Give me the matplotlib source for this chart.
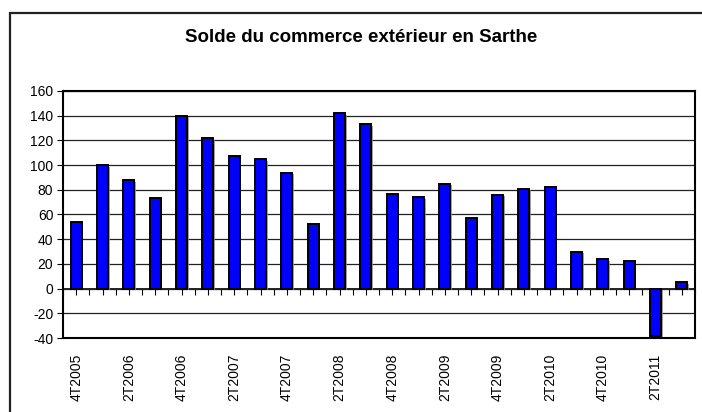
import matplotlib
matplotlib.use("Agg")
import matplotlib.pyplot as plt
import matplotlib.patches as mpatches
import matplotlib.patheffects as pe
import numpy as np

plt.rcParams['font.family'] = ['Liberation Sans', 'DejaVu Sans']
plt.rcParams['axes.unicode_minus'] = False

quarters = ["4T2005", "1T2006", "2T2006", "3T2006", "4T2006", "1T2007", "2T2007", "3T2007",
            "4T2007", "1T2008", "2T2008", "3T2008", "4T2008", "1T2009", "2T2009", "3T2009",
            "4T2009", "1T2010", "2T2010", "3T2010", "4T2010", "1T2011", "2T2011", "3T2011"]
solde = [54, 100, 88, 73, 140, 122, 107, 105, 94, 52, 142, 133,
         77, 74, 85, 57, 76, 81, 82, 30, 24, 22, -38, 5]
yticks = [-40, -20, 0, 20, 40, 60, 80, 100, 120, 140, 160]
title = "Solde du commerce extérieur en Sarthe"

fig = plt.figure(figsize=(7.02, 4.12), dpi=100)
# chart-area border
fig.patches.append(mpatches.Rectangle((10/702, -0.1), 1.0, 1 - 13/412 + 0.1,
                                      transform=fig.transFigure, fill=False,
                                      edgecolor='#222222', linewidth=1.6, zorder=0))

ax = fig.add_axes([63/702, 1 - 338/412, (695 - 63)/702, (338 - 91)/412])
x = np.arange(len(solde))
bars = ax.bar(x, solde, width=0.43, color='#0000FF', edgecolor='black', linewidth=1.4, zorder=3)
for b in bars:
    b.set_path_effects([pe.SimplePatchShadow(offset=(1.2, -1.2), shadow_rgbFace='#888888', alpha=0.8),
                        pe.Normal()])

ax.set_xlim(-0.5, len(solde) - 0.5)
ax.set_ylim(yticks[0], yticks[-1])
ax.set_yticks(yticks)
ax.yaxis.grid(True, color='#222222', linewidth=0.9, zorder=1)
ax.set_axisbelow(True)
ax.tick_params(axis='y', direction='out', length=4, width=0.8, pad=3, labelsize=10)

ax.set_xticks(x[::2])
ax.set_xticklabels(quarters[::2], rotation=90, fontsize=10)
ax.tick_params(axis='x', length=0, pad=11)

for s in ax.spines.values():
    s.set_linewidth(1.5)
    s.set_color('black')

# zero axis with tick marks
loc0 = (0 - yticks[0]) / (yticks[-1] - yticks[0])
sec = ax.secondary_xaxis(loc0)
sec.set_xticks(np.arange(-0.5, len(solde), 0.5))
sec.tick_params(direction='out', length=4, width=0.8, labelbottom=False, labeltop=False,
                bottom=True, top=False)
sec.xaxis.set_ticks_position('bottom')
sec.set_xticklabels([])
sec.spines['bottom'].set_linewidth(1.2)

fig.text(361/702, 1 - 38/412, title, ha='center', va='center',
         fontsize=13.5, fontweight='bold')

fig.savefig("out.png", dpi=100)
